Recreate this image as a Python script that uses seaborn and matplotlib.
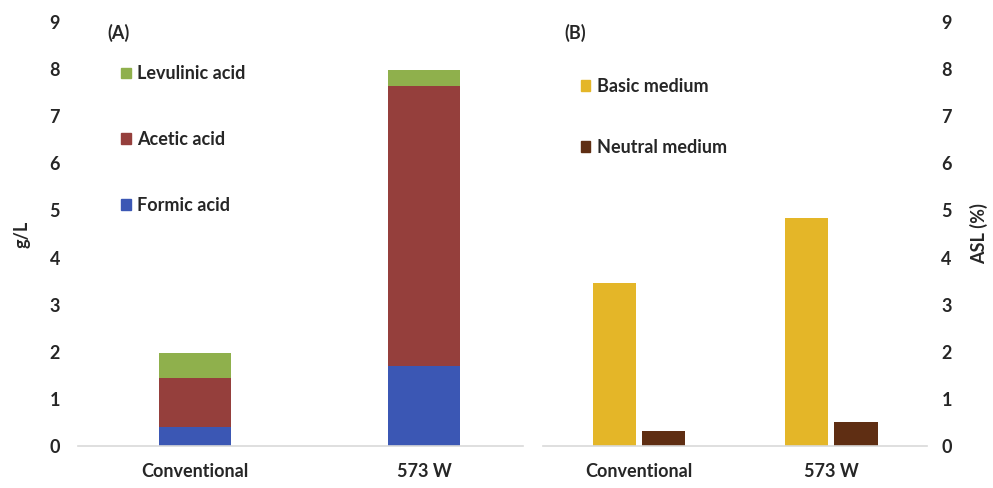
import matplotlib.pyplot as plt
import seaborn as sns
import pandas as pd
from matplotlib.patches import Patch

sns.set_style("white")
plt.rcParams["font.family"] = ["Lato", "DejaVu Sans"]
plt.rcParams["font.weight"] = "bold"

# ---------- data ----------
methods = ["Conventional", "573 W"]
formic = [0.40, 1.70]
acetic = [1.05, 5.95]
levulinic = [0.52, 0.32]

media = ["Basic medium", "Neutral medium"]
basic = [3.45, 4.85]
neutral = [0.32, 0.52]

acid_colors = {"Formic acid": "#3b57b4", "Acetic acid": "#953f3c", "Levulinic acid": "#8fb04c"}
medium_colors = {"Basic medium": "#e4b628", "Neutral medium": "#5f2e13"}
axis_grey = "#d9d9d9"

df_a = pd.DataFrame({"method": methods, "formic": formic,
                     "acetic": acetic, "levulinic": levulinic})
df_a["lev_top"] = df_a["formic"] + df_a["acetic"] + df_a["levulinic"]
df_a["ace_top"] = df_a["formic"] + df_a["acetic"]

df_b = pd.DataFrame({
    "method": methods * 2,
    "medium": [media[0]] * 2 + [media[1]] * 2,
    "asl": basic + neutral,
})

fig = plt.figure(figsize=(9.93, 4.88), dpi=100)
ax1 = fig.add_axes([0.0786, 0.086, 0.448, 0.869])
ax2 = fig.add_axes([0.547, 0.086, 0.387, 0.869])

# ---------- (A) stacked acids ----------
for col, name in [("lev_top", "Levulinic acid"), ("ace_top", "Acetic acid"), ("formic", "Formic acid")]:
    sns.barplot(data=df_a, x="method", y=col, color=acid_colors[name],
                width=0.313, saturation=1, linewidth=0, ax=ax1)
ax1.set_xlim(-0.51, 1.43)
ax1.set_ylim(0, 9)
ax1.set_yticks(range(10))
ax1.set_xlabel("")
ax1.set_ylabel("g/L", fontsize=13, fontweight="bold", labelpad=14)
ax1.text(0.065, 0.975, "(A)", transform=ax1.transAxes, fontsize=13,
         fontweight="bold", va="center")
handles_a = [Patch(color=acid_colors[n]) for n in ["Levulinic acid", "Acetic acid", "Formic acid"]]
ax1.legend(handles_a, ["Levulinic acid", "Acetic acid", "Formic acid"],
           loc="upper left", bbox_to_anchor=(0.06, 0.936), frameon=False,
           fontsize=13, handlelength=0.55, handleheight=0.55, handletextpad=0.35,
           labelspacing=2.7)

# ---------- (B) ASL ----------
sns.barplot(data=df_b, x="method", y="asl", hue="medium", palette=medium_colors,
            width=0.512, gap=0.12, saturation=1, linewidth=0, ax=ax2, legend=False)
ax2.set_xlim(-0.5, 1.5)
ax2.set_ylim(0, 9)
ax2.set_yticks(range(10))
ax2.yaxis.tick_right()
ax2.yaxis.set_label_position("right")
ax2.set_xlabel("")
ax2.set_ylabel("ASL (%)", fontsize=13, fontweight="bold", labelpad=13)
ax2.text(0.055, 0.975, "(B)", transform=ax2.transAxes, fontsize=13,
         fontweight="bold", va="center")
handles_b = [Patch(color=medium_colors[m]) for m in media]
ax2.legend(handles_b, media, loc="upper left", bbox_to_anchor=(0.055, 0.906),
           frameon=False, fontsize=13, handlelength=0.55, handleheight=0.55,
           handletextpad=0.35, labelspacing=2.45)

for ax in (ax1, ax2):
    sns.despine(ax=ax, left=True, right=True, top=True)
    ax.spines["bottom"].set_color(axis_grey)
    ax.spines["bottom"].set_linewidth(1.2)
    ax.tick_params(axis="both", length=0, labelsize=13)
    ax.tick_params(axis="x", pad=12)
    for lab in ax.get_xticklabels() + ax.get_yticklabels():
        lab.set_fontweight("bold")
ax1.tick_params(axis="y", pad=13)
ax2.tick_params(axis="y", pad=10)

fig.savefig("out.png", dpi=100)
